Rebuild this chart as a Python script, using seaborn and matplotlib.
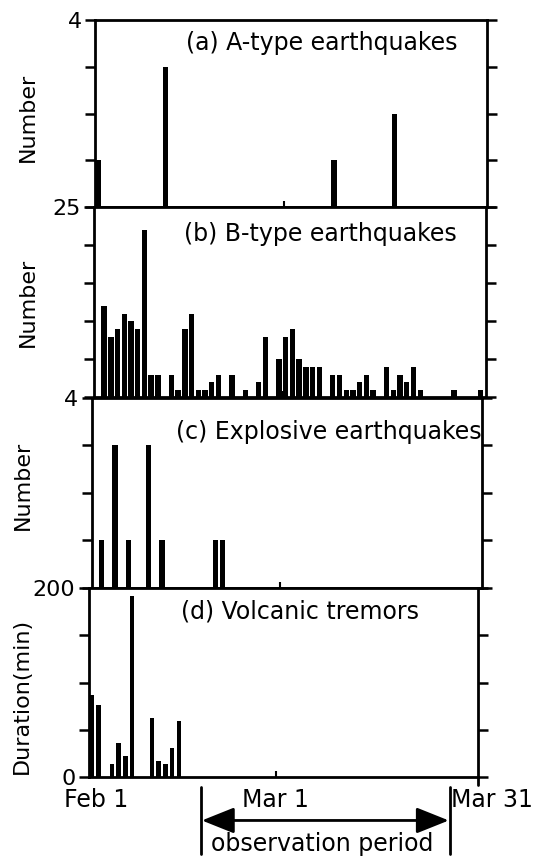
import matplotlib
matplotlib.use("Agg")
import matplotlib.pyplot as plt
import seaborn as sns

sns.set_style("white")
plt.rcParams["font.family"] = ["DejaVu Sans"]
plt.rcParams["text.color"] = "black"
plt.rcParams["axes.labelcolor"] = "black"
plt.rcParams["xtick.color"] = "black"
plt.rcParams["ytick.color"] = "black"

# ---- data: day index counted from Feb 1 (0) ----
a_days = [0, 10, 35, 44]
a_vals = [1, 3, 1, 2]

b_days = [1, 2, 3, 4, 5, 6, 7, 8, 9, 11, 12, 13, 14, 15, 16, 17, 18, 20, 22, 24,
          25, 27, 28, 29, 30, 31, 32, 33, 35, 36, 37, 38, 39, 40, 41, 43, 44, 45,
          46, 47, 48, 53, 57]
b_vals = [12, 8, 9, 11, 10, 9, 22, 3, 3, 3, 1, 9, 11, 1, 1, 2, 3, 3, 1, 2,
          8, 5, 8, 9, 5, 4, 4, 4, 3, 3, 1, 1, 2, 3, 1, 4, 1, 3,
          2, 4, 1, 1, 1]

c_days = [1, 3, 5, 8, 10, 18, 19]
c_vals = [1, 3, 1, 3, 1, 1, 1]

d_days = [0, 1, 3, 4, 5, 6, 9, 10, 11, 12, 13]
d_vals = [87, 76, 14, 36, 22, 192, 62, 17, 14, 31, 59]

titles = ["(a) A-type earthquakes", "(b) B-type earthquakes",
          "(c) Explosive earthquakes", "(d) Volcanic tremors"]
ylabels = ["Number", "Number", "Number", "Duration(min)"]
ymax = [4, 25, 4, 200]
ystep = [1, 5, 1, 50]
xtick_labels = ["Feb 1", "Mar 1", "Mar 31"]

W, H = 535, 856
fig = plt.figure(figsize=(W / 100, H / 100), dpi=100)

# panel pixel boxes (left, right, top, bottom)
boxes = [(95, 487, 20, 207), (94, 485.5, 207, 397.5),
         (91.5, 482.5, 397.5, 588), (88.5, 478, 588, 777)]
title_pos = [(0.579, 0.877), (0.578, 0.858), (0.606, 0.82), (0.543, 0.877)]
ylab_pos = [(-0.172, 0.48), (-0.17, 0.5), (-0.176, 0.54), (-0.171, 0.43)]

series = [(a_days, a_vals), (b_days, b_vals), (c_days, c_vals), (d_days, d_vals)]
XMIN, XMAX = -0.5, 57.7
LW = 2.0

axes = []
for i, ((l, r, t, b), (days, vals)) in enumerate(zip(boxes, series)):
    ax = fig.add_axes([l / W, 1 - b / H, (r - l) / W, (b - t) / H])
    axes.append(ax)
    sns.histplot(x=days, weights=vals, discrete=True,
                 shrink=0.7 if i == 3 else 0.8,
                 color="black", alpha=1, linewidth=0, ax=ax)
    ax.set_xlim(XMIN, XMAX)
    ax.set_ylim(0, ymax[i])
    ticks = list(range(0, ymax[i] + 1, ystep[i]))
    ax.set_yticks(ticks)
    labs = ["" for _ in ticks]
    labs[-1] = str(ymax[i])
    if i == 3:
        labs[0] = "0"
    ax.set_yticklabels(labs)
    ax.set_ylabel("")
    ax.set_xlabel("")
    ax.tick_params(axis="y", which="major", left=True, right=True,
                   direction="out", length=7.5, width=1.8, labelsize=16, pad=2,
                   labelright=False)
    ax.set_xticks([27.5])
    ax.tick_params(axis="x", which="major", bottom=True, top=False,
                   direction="in", length=4, width=1.5, labelbottom=False)
    for s in ax.spines.values():
        s.set_linewidth(LW)
        s.set_color("black")
        s.set_visible(True)
    ax.text(*title_pos[i], titles[i], transform=ax.transAxes,
            ha="center", va="center", fontsize=17, color="black")
    ax.text(*ylab_pos[i], ylabels[i], transform=ax.transAxes, rotation=90,
            ha="center", va="center", fontsize=16, color="black")

axd = axes[3]
# date labels under the bottom panel
for xf, lab in zip([0.019, 0.481, 1.036], xtick_labels):
    axd.text(xf, -0.123, lab, transform=axd.transAxes, ha="center",
             va="center", fontsize=17, color="black")
# small downward tick at the right corner
axd.plot([1, 1], [0, -0.04], transform=axd.transAxes, color="black",
         lw=LW, clip_on=False)

# observation period annotation
for xf in [0.288, 0.928]:
    axd.plot([xf, xf], [-0.053, -0.406], transform=axd.transAxes,
             color="black", lw=2, clip_on=False)
axd.annotate("", xy=(0.925, -0.23), xytext=(0.291, -0.23),
             xycoords="axes fraction", textcoords="axes fraction",
             arrowprops=dict(arrowstyle="<|-|>,head_length=1.0,head_width=0.4",
                             mutation_scale=20, lw=2, color="black",
                             shrinkA=0, shrinkB=0))
axd.text(0.599, -0.353, "observation period", transform=axd.transAxes,
         ha="center", va="center", fontsize=17, color="black")

fig.savefig("out.png", dpi=100)
